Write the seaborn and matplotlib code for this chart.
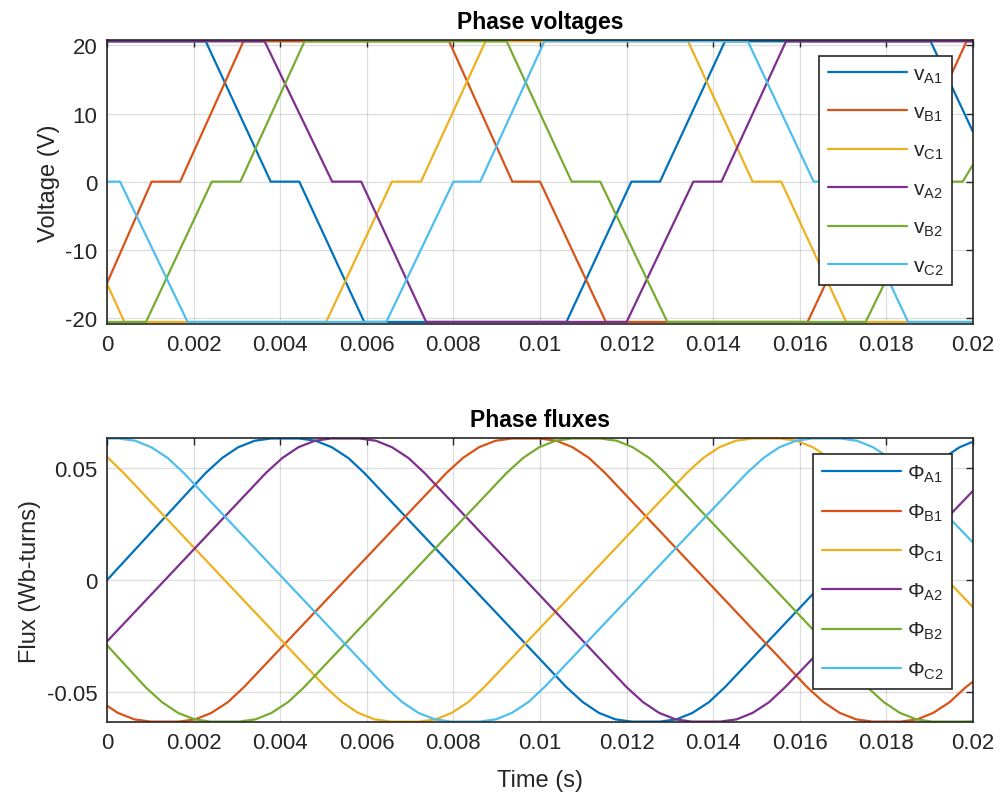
import matplotlib
matplotlib.use("Agg")
import matplotlib.pyplot as plt
import seaborn as sns

# shared time axis
x_ticks = [0, 0.002, 0.004, 0.006, 0.008, 0.01, 0.012, 0.014, 0.016, 0.018, 0.02]
x_ticklabels = ["0", "0.002", "0.004", "0.006", "0.008", "0.01",
                "0.012", "0.014", "0.016", "0.018", "0.02"]

# phase voltages, breakpoints (s, V)
vA1_t = [0, 0.00228, 0.00378, 0.00444, 0.00594, 0.01061, 0.01211, 0.01277, 0.01427, 0.01902, 0.02]
vA1 = [20.6, 20.6, 0, 0, -20.6, -20.6, 0, 0, 20.6, 20.6, 7.3]
vB1_t = [0, 0.00103, 0.00169, 0.00315, 0.00790, 0.00936, 0.01000, 0.01152, 0.01618, 0.01770,
         0.01836, 0.01985, 0.02]
vB1 = [-14.9, 0, 0, 20.6, 20.6, 0, 0, -20.6, -20.6, 0, 0, 20.6, 20.6]
vC1_t = [0, 0.0004, 0.00506, 0.00658, 0.00725, 0.00874, 0.01342, 0.01491, 0.01557, 0.01707, 0.02]
vC1 = [-15.0, -20.6, -20.6, 0, 0, 20.6, 20.6, 0, 0, -20.6, -20.6]
vA2_t = [0, 0.00364, 0.00520, 0.00587, 0.00737, 0.01200, 0.01354, 0.01419, 0.01568, 0.02]
vA2 = [20.6, 20.6, 0, 0, -20.6, -20.6, 0, 0, 20.6, 20.6]
vB2_t = [0, 0.0009, 0.00242, 0.00308, 0.00456, 0.00923, 0.01073, 0.01139, 0.01294, 0.01752,
         0.01910, 0.01976, 0.02]
vB2 = [-20.6, -20.6, 0, 0, 20.6, 20.6, 0, 0, -20.6, -20.6, 0, 0, 2.5]
vC2_t = [0, 0.0003, 0.00186, 0.00645, 0.00800, 0.00862, 0.01010, 0.01480, 0.01632, 0.01698,
         0.01850, 0.02]
vC2 = [0, 0, -20.6, -20.6, 0, 0, 20.6, 20.6, 0, 0, -20.6, -20.6]

# phase fluxes, points (s, Wb-turns)
fA1_t = [0, 0.00228, 0.00266, 0.00303, 0.00341, 0.00378, 0.00444, 0.00482, 0.00519, 0.00557,
         0.00594, 0.01061, 0.01099, 0.01136, 0.01174, 0.01211, 0.01277, 0.01315, 0.01352,
         0.0139, 0.01427, 0.01894, 0.01932, 0.01969, 0.02]
fA1 = [0.0, 0.0480, 0.0547, 0.0595, 0.0624, 0.0634, 0.0634, 0.0624, 0.0595, 0.0547,
       0.0480, -0.0480, -0.0547, -0.0595, -0.0624, -0.0634, -0.0634, -0.0624, -0.0595,
       -0.0547, -0.0480, 0.0480, 0.0547, 0.0595, 0.0620]
fB1_t = [0, 0.00025, 0.00063, 0.001, 0.00166, 0.00204, 0.00241, 0.00279, 0.00316, 0.00784,
         0.00822, 0.00859, 0.00897, 0.00934, 0.01, 0.01038, 0.01075, 0.01113, 0.0115, 0.01617,
         0.01655, 0.01692, 0.0173, 0.01767, 0.01833, 0.01871, 0.01908, 0.01946, 0.01983, 0.02]
fB1 = [-0.0563, -0.0595, -0.0624, -0.0634, -0.0634, -0.0624, -0.0595, -0.0547, -0.0480, 0.0480,
       0.0547, 0.0595, 0.0624, 0.0634, 0.0634, 0.0624, 0.0595, 0.0547, 0.0480, -0.0480,
       -0.0547, -0.0595, -0.0624, -0.0634, -0.0634, -0.0624, -0.0595, -0.0547, -0.0480, -0.0455]
fC1_t = [0, 0.00038, 0.00505, 0.00543, 0.0058, 0.00618, 0.00655, 0.00721, 0.00759, 0.00796,
         0.00834, 0.00871, 0.01339, 0.01377, 0.01414, 0.01452, 0.01489, 0.01555, 0.01593,
         0.0163, 0.01668, 0.01705, 0.02]
fC1 = [0.0552, 0.0480, -0.0480, -0.0547, -0.0595, -0.0624, -0.0634, -0.0634, -0.0624, -0.0595,
       -0.0547, -0.0480, 0.0480, 0.0547, 0.0595, 0.0624, 0.0634, 0.0634, 0.0624,
       0.0595, 0.0547, 0.0480, -0.0122]
fA2_t = [0, 0.00367, 0.00405, 0.00442, 0.0048, 0.00517, 0.00583, 0.00621, 0.00658, 0.00696,
         0.00733, 0.012, 0.01238, 0.01275, 0.01313, 0.0135, 0.01416, 0.01454, 0.01491,
         0.01529, 0.01566, 0.02]
fA2 = [-0.0275, 0.0480, 0.0547, 0.0595, 0.0624, 0.0634, 0.0634, 0.0624, 0.0595, 0.0547,
       0.0480, -0.0480, -0.0547, -0.0595, -0.0624, -0.0634, -0.0634, -0.0624, -0.0595,
       -0.0547, -0.0480, 0.0400]
fB2_t = [0, 0.00089, 0.00127, 0.00164, 0.00202, 0.00239, 0.00305, 0.00343, 0.0038, 0.00418,
         0.00455, 0.00923, 0.00961, 0.00998, 0.01036, 0.01073, 0.01139, 0.01177, 0.01214,
         0.01252, 0.01289, 0.01756, 0.01794, 0.01831, 0.01869, 0.01906, 0.01972, 0.02]
fB2 = [-0.0292, -0.0480, -0.0547, -0.0595, -0.0624, -0.0634, -0.0634, -0.0624, -0.0595, -0.0547,
       -0.0480, 0.0480, 0.0547, 0.0595, 0.0624, 0.0634, 0.0634, 0.0624, 0.0595,
       0.0547, 0.0480, -0.0480, -0.0547, -0.0595, -0.0624, -0.0634, -0.0634, -0.0633]
fC2_t = [0, 0.00027, 0.00065, 0.00102, 0.0014, 0.00177, 0.00644, 0.00682, 0.00719, 0.00757,
         0.00794, 0.0086, 0.00898, 0.00935, 0.00973, 0.0101, 0.01478, 0.01516, 0.01553,
         0.01591, 0.01628, 0.01694, 0.01732, 0.01769, 0.01807, 0.01844, 0.02]
fC2 = [0.0634, 0.0634, 0.0624, 0.0595, 0.0547, 0.0480, -0.0480, -0.0547, -0.0595, -0.0624,
       -0.0634, -0.0634, -0.0624, -0.0595, -0.0547, -0.0480, 0.0480, 0.0547, 0.0595,
       0.0624, 0.0634, 0.0634, 0.0624, 0.0595, 0.0547, 0.0480, 0.0168]

v_labels = ["v$_{\\mathregular{A1}}$", "v$_{\\mathregular{B1}}$", "v$_{\\mathregular{C1}}$",
            "v$_{\\mathregular{A2}}$", "v$_{\\mathregular{B2}}$", "v$_{\\mathregular{C2}}$"]
f_labels = ["$\\Phi_{\\mathregular{A1}}$", "$\\Phi_{\\mathregular{B1}}$", "$\\Phi_{\\mathregular{C1}}$",
            "$\\Phi_{\\mathregular{A2}}$", "$\\Phi_{\\mathregular{B2}}$", "$\\Phi_{\\mathregular{C2}}$"]
colors = ["#0072BD", "#D95319", "#EDB120", "#7E2F8E", "#77AC30", "#4DBEEE"]

sns.set_style("white")
plt.rcParams["font.family"] = ["Liberation Sans", "DejaVu Sans"]
plt.rcParams["mathtext.fontset"] = "custom"
plt.rcParams["mathtext.rm"] = "Liberation Sans"
plt.rcParams["mathtext.it"] = "Liberation Sans:italic"
plt.rcParams["axes.unicode_minus"] = False

dark = "#262626"
fig = plt.figure(figsize=(10.05, 8.04), dpi=100)
ax_v = fig.add_axes([0.1065, 0.5958, 0.8617, 0.3532])
ax_f = fig.add_axes([0.1065, 0.1007, 0.8617, 0.3532])

volts = [(vA1_t, vA1), (vB1_t, vB1), (vC1_t, vC1), (vA2_t, vA2), (vB2_t, vB2), (vC2_t, vC2)]
fluxes = [(fA1_t, fA1), (fB1_t, fB1), (fC1_t, fC1), (fA2_t, fA2), (fB2_t, fB2), (fC2_t, fC2)]

for (t, v), lab, c in zip(volts, v_labels, colors):
    sns.lineplot(x=t, y=v, ax=ax_v, color=c, label=lab, lw=1.6, sort=False)
for (t, f), lab, c in zip(fluxes, f_labels, colors):
    sns.lineplot(x=t, y=f, ax=ax_f, color=c, label=lab, lw=1.6, sort=False)

ax_v.set_ylim(-20.9, 20.8)
ax_v.set_yticks([-20, -10, 0, 10, 20])
ax_v.set_yticklabels(["-20", "-10", "0", "10", "20"])
ax_f.set_ylim(-0.0636, 0.0636)
ax_f.set_yticks([-0.05, 0, 0.05])
ax_f.set_yticklabels(["-0.05", "0", "0.05"])

for ax, title, ylab in [(ax_v, "Phase voltages", "Voltage (V)"),
                        (ax_f, "Phase fluxes", "Flux (Wb-turns)")]:
    ax.set_xlim(0, 0.02)
    ax.set_xticks(x_ticks)
    ax.set_xticklabels(x_ticklabels)
    ax.grid(True, color=dark, alpha=0.15, lw=0.9)
    ax.tick_params(direction="in", length=5, width=1.0, colors=dark, labelsize=16,
                   top=True, right=True, pad=7)
    for s in ax.spines.values():
        s.set_color(dark)
        s.set_linewidth(1.2)
    ax.set_title(title, fontsize=16.5, fontweight="bold", color="black", pad=8.5)
    ax.set_ylabel(ylab, fontsize=17, color=dark, labelpad=4)
    leg = ax.legend(loc="upper right", bbox_to_anchor=(0.9758, 0.9437), borderaxespad=0,
                    fontsize=15, handlelength=3.8, handletextpad=0.3, labelspacing=0.87,
                    frameon=True, fancybox=False, framealpha=1, edgecolor=dark)
    leg.get_frame().set_linewidth(1.2)

ax_f.set_xlabel("Time (s)", fontsize=17, color=dark, labelpad=12)

fig.savefig("out.png", dpi=100)
